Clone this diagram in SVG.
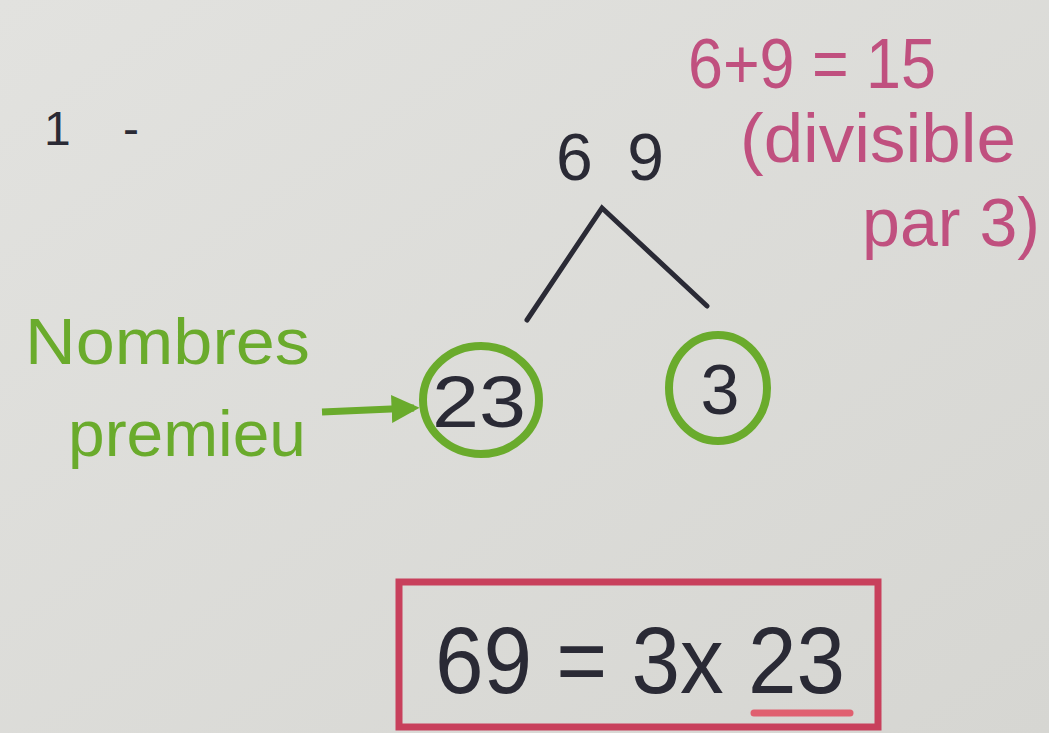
<svg xmlns="http://www.w3.org/2000/svg" width="1049" height="733" viewBox="0 0 1049 733">
<style>
.ink{font-family:"Liberation Sans",Arial,sans-serif;fill:#2a2a35}
.pink{font-family:"Liberation Sans",Arial,sans-serif;fill:#c0507f}
.green{font-family:"Liberation Sans",Arial,sans-serif;fill:#6aab2c}
.line{stroke:#2a2a35;stroke-width:5;fill:none;stroke-linecap:round}
.circ{stroke:#6aab2c;stroke-width:8;fill:none}
</style>
<defs>
<linearGradient id="bg" x1="0" y1="0" x2="1" y2="1">
<stop offset="0" stop-color="#e2e2df"/>
<stop offset="1" stop-color="#d6d6d2"/>
</linearGradient>
<marker id="ah" viewBox="0 0 10 10" refX="8" refY="5" markerWidth="4" markerHeight="4" orient="auto">
<path d="M0,0 L10,5 L0,10 z" fill="#6aab2c"/>
</marker>
</defs>
<rect width="1049" height="733" fill="url(#bg)"/>
<g id="label1"><text class="ink" x="44" y="145" font-size="48" textLength="95" lengthAdjust="spacing">1 -</text></g>
<g id="n69"><text class="ink" x="556" y="180" font-size="66" textLength="108" lengthAdjust="spacing">69</text></g>
<g id="note">
<text class="pink" x="688" y="88" font-size="70" textLength="248" lengthAdjust="spacingAndGlyphs">6+9 = 15</text>
<text class="pink" x="740" y="162" font-size="68" textLength="276" lengthAdjust="spacingAndGlyphs">(divisible</text>
<text class="pink" x="862" y="246" font-size="68" textLength="178" lengthAdjust="spacingAndGlyphs">par 3)</text>
</g>
<g id="n23"><ellipse class="circ" cx="481" cy="400" rx="58" ry="54"/><text class="ink" x="432" y="427" font-size="72" textLength="94" lengthAdjust="spacingAndGlyphs">23</text></g>
<g id="n3"><ellipse class="circ" cx="718" cy="388" rx="49" ry="53"/><text class="ink" x="720" y="414" font-size="70" text-anchor="middle">3</text></g>
<g id="prime">
<text class="green" x="25" y="364" font-size="64" textLength="285" lengthAdjust="spacingAndGlyphs">Nombres</text>
<text class="green" x="68" y="456" font-size="64" textLength="238" lengthAdjust="spacingAndGlyphs">premieu</text>
</g>
<g id="result"><rect x="399" y="582" width="479" height="145" fill="none" stroke="#c8405c" stroke-width="7"/>
<text class="ink" x="435" y="693" font-size="94" textLength="410" lengthAdjust="spacingAndGlyphs">69 = 3x 23</text>
<line x1="754" y1="713" x2="850" y2="713" stroke="#e06070" stroke-width="7" stroke-linecap="round"/></g>
<g id="connectors">
<path class="line" d="M527,320 L602,208 L707,306"/>
<line x1="322" y1="412" x2="414" y2="408" stroke="#6aab2c" stroke-width="7" marker-end="url(#ah)"/>
</g>
</svg>
